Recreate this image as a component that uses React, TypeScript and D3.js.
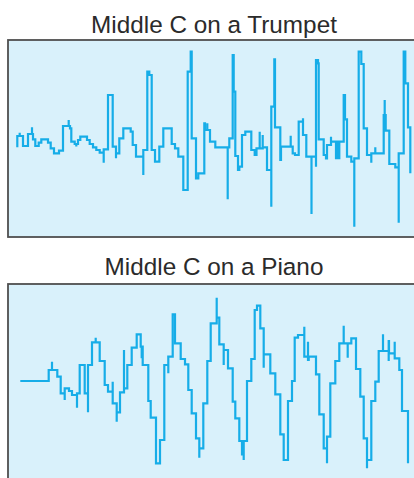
import React from "react";
import * as d3 from "d3";

// Trumpet waveform: step breakpoints (sample index, amplitude)
const trumpetTime = [
  9.3, 9.3, 11.7, 11.7, 15, 20, 24, 24, 25, 27.3, 30.7, 33.3, 40, 42.7, 46, 51, 55, 60.7, 60.7, 62,
  63.3, 66.7, 68.3, 68.3, 70, 72.3, 79, 81.7, 85, 88.3, 91.7, 95.7, 95.7, 100, 104.7, 108, 108, 111.3,
  115.3, 122.7, 124.7, 128, 135.3, 135.3, 139.3, 141.3, 143.7, 147, 151.3, 155.3, 163.7, 167, 170.3,
  175.3, 179.7, 182.7, 183.7, 188, 190.3, 196.3, 197, 199.3, 199.3, 202, 207.3, 219.7, 219.7, 221.3,
  224.7, 225.7, 227.3, 230, 231.3, 234, 237.3, 243.3, 246.7, 248.5, 251.7, 251.7, 254.7, 254.7, 259,
  263.3, 263.3, 266.3, 267, 272.3, 273, 282.7, 282.7, 284.7, 287, 290.7, 295, 295, 298.3, 303.5, 303.5,
  308, 308, 310, 310.7, 315.7, 318, 319, 323, 323, 328, 328, 329.7, 329.7, 331.3, 331.3, 335.7, 337,
  339, 343.3, 346.3, 346.3, 350.7, 353.3, 355.7, 359, 363.3, 363.3, 367.3, 367.3, 375.7, 376.7, 376.7,
  377.7, 381.3, 387.3, 390.7, 390.7, 395.7, 397.3, 400, 402.3,
];
const trumpetLevel = [
  -8.8, 2.5, 5.8, 2.5, -7.5, 4.5, 11.2, 4.5, -0.8, -7.5, -4.2, -0.8, -4.2, -9.8, -14.8, -12.2, 12.5, 18.5, 12.5, 10.2,
  -3.2, -5.5, -8, -5.5, -1.5, 1.8, -1.5, -5.5, -8.8, -11.5, -14.2, -24.2, -10.8, 43.5, -8.2, -19.8, -14.8, 0.2,
  10.2, 6.8, -6.5, -18.2, -36.5, -11.5, 66.8, 63.5, -11.5, -23.2, -8.2, 10.2, -5.5, -9.8, -18.2,
  -51.5, 66.8, 86.8, 0.2, -39.8, -34.8, 15.2, 8.5, 15.2, 8.5, -3.2, -8.8, -60.8, -8.8, 0.2,
  83.5, 46.8, -17.5, -31.5, -28.2, 3.5, 6.8, -11.5, -16.5, -9.8, 6.8, -9.8, 3.5, -8.8, -31.5,
  -68.2, 31.8, 79.2, 11.2, -21.5, -8.2, 2.8, -8.2, -14.8, -16.5, 16.8, 20.2, 3.5, -18.2, -75.5, -18.2,
  -28.2, 78.5, 75.2, -0.8, -16.5, -19.8, -6.5, 1.8, -3.2, -20.8, -3.2, -20.8, -3.2, -20.8, -3.2, 43.5, 19.2,
  -18.2, -23.2, -88.2, -19.8, 86.8, 74.5, 10.2, -16.5, -24.2, -14.8, -8.8, -14.8, 23.5, 38.5, 23.5,
  7.8, -25.5, -28.8, -84.2, -14.8, 86.8, 55.2, 11.2, -34.8,
];

// Piano waveform: step breakpoints (sample index, amplitude)
const pianoTime = [
  12.3, 40.7, 44, 44, 49.3, 52.7, 56.7, 56.7, 61, 64, 69, 69, 71.7, 76.7, 80, 80, 84, 87.7, 87.7, 91.7,
  96.7, 100, 104.7, 104.7, 108.7, 108.7, 112, 116, 116, 119.3, 123.7, 128.7, 132.7, 133.7, 133.7, 134.7,
  140.3, 142.7, 148, 152, 156.3, 160.3, 160.3, 164.7, 167, 172.7, 177, 180.3, 183.7, 188, 191.3, 191.3,
  195.3, 199.3, 202.7, 208.7, 208.7, 211.3, 215.7, 215.7, 220, 224.7, 227.3, 231.3, 234, 235.7, 235.7,
  239, 243.3, 246.7, 249, 252.3, 255.7, 255.7, 262.3, 267.3, 272.3, 275.7, 280, 284, 286.7, 290, 296.3,
  296.3, 300, 300, 300.7, 308, 311.3, 315.7, 319, 319, 322.3, 327.3, 331.3, 335.7, 335.7, 339.7, 339.7,
  343.3, 348, 352.3, 355.7, 359, 359, 363.3, 367.3, 370.7, 375, 375, 380.7, 380.7, 381, 386.7, 386.7,
  391.3, 394, 400,
];
const pianoLevel = [
  1.5, 12.5, 20.8, 12.5, 5.8, -10.8, -17.5, -5.8, -8.5, -12.5, -25.2, -10.8, 17.5, -10.8, -29.8, 17.5, 40.2, 44.8, 40.2, 21.5,
  -2.5, -9.2, 0.8, -20.8, -39.2, -29.8, -9.8, 32.5, -5.8, 17.5, 34.8, 48.2, 35.8, 24.2, 35.8, 17.5,
  -18.5, -35.2, -80.8, -57.5, 17.5, 9.2, 25.8, 68.2, 39.2, 23.5, 18.2, -7.5, -30.8, -55.8, -75.2, -65.8,
  -20.8, 21.5, 59.2, 84.8, 64.8, 38.2, 17.5, 32.5, 14.2, -19.2, -35.8, -58.5, -71.8, -77.5, -58.5,
  1.5, 23.5, 72.5, 76.8, 54.2, 14.8, 28.2, 9.2, -11.8, -51.8, -77.5, -18.5, 1.5, 44.8, 47.5, 55.8,
  25.8, 40.8, 22.5, 25.8, 8.2, -31.8, -65.8, -80.8, -54.2, -0.8, 21.5, 39.2, 56.8, 39.2, 24.8, 39.2,
  44.2, 13.5, -14.2, -55.8, -85.8, -77.5, -18.5, 0.8, 31.5, 48.2, 31.5, 21.5, 41.5, 29.2, 40.8, 24.2,
  12.5, -28.5, -80.8,
];

const titles = ["Middle C on a Trumpet", "Middle C on a Piano"];

const W = 414;
const H = 478;

type Panel = { title: string; time: number[]; level: number[]; top: number; titleY: number };

const panels: Panel[] = [
  { title: titles[0], time: trumpetTime, level: trumpetLevel, top: 40, titleY: 32.5 },
  { title: titles[1], time: pianoTime, level: pianoLevel, top: 284, titleY: 275.3 },
];

const panelLeft = 8;
const panelWidth = 412;
const panelHeight = 197;

export default function App() {
  const x = d3.scaleLinear().domain([0, 406]).range([panelLeft, panelLeft + 406]);
  return (
    <svg
      width={W}
      height={H}
      style={{ position: "absolute", left: 0, top: 0, background: "#fff" }}
    >
      {panels.map((p, i) => {
        const y = d3
          .scaleLinear()
          .domain([-98.5, 98.5])
          .range([p.top + panelHeight, p.top]);
        const pts: [number, number][] = p.time.map((t, k) => [t, p.level[k]]);
        const line = d3
          .line<[number, number]>()
          .x((d) => x(d[0]))
          .y((d) => y(d[1]))
          .curve(d3.curveStepAfter);
        return (
          <g key={i}>
            <text
              x={214}
              y={p.titleY}
              textAnchor="middle"
              fontFamily="'Liberation Sans', Arial, Helvetica, sans-serif"
              fontSize={24.3}
              fill="#2b2b2b"
            >
              {p.title}
            </text>
            <rect
              x={panelLeft}
              y={p.top}
              width={panelWidth}
              height={panelHeight}
              fill="#d9f1fb"
              stroke="#4f4f4f"
              strokeWidth={1.8}
            />
            <path
              d={line(pts) || ""}
              fill="none"
              stroke="#16ade8"
              strokeWidth={2.2}
              strokeLinejoin="miter"
            />
          </g>
        );
      })}
    </svg>
  );
}
